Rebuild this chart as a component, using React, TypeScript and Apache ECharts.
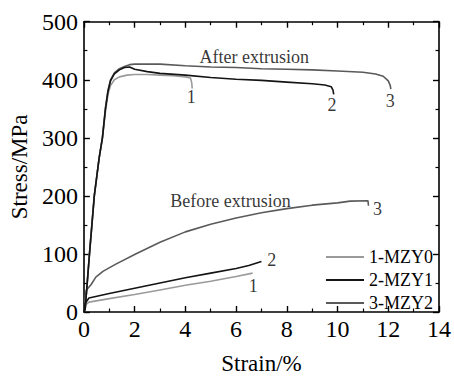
import React, { useEffect, useRef } from "react";
import * as echarts from "echarts";

// Strain (%) / Stress (MPa)
const after1X = [0, 0.05, 0.22, 0.41, 0.6, 0.73, 0.85, 0.95, 1.05, 1.2, 1.4, 1.7, 2.0, 2.5, 3.0, 3.5, 4.0, 4.2, 4.25, 4.27];
const after1Y = [0, 5, 100, 200, 265, 300, 345, 375, 390, 400, 405, 408, 409, 409, 408, 407, 405, 403, 395, 385];
const after2X = [0, 0.05, 0.22, 0.41, 0.6, 0.73, 0.85, 0.95, 1.05, 1.2, 1.4, 1.6, 1.8, 2.0, 2.5, 3, 4, 5, 6, 7, 8, 9, 9.5, 9.75, 9.82, 9.85];
const after2Y = [0, 5, 100, 200, 265, 300, 350, 380, 398, 410, 417, 421, 422, 418, 414, 411, 408, 404, 401, 399, 396, 393, 391, 388, 382, 375];
const after3X = [0, 0.05, 0.22, 0.41, 0.6, 0.73, 0.85, 0.95, 1.05, 1.2, 1.4, 1.6, 1.8, 2.0, 3, 4, 5, 6, 7, 8, 9, 10, 11, 11.5, 11.8, 12.0, 12.08, 12.1];
const after3Y = [0, 5, 100, 200, 265, 300, 352, 382, 400, 412, 419, 423, 426, 427, 427, 424, 422, 421, 419, 418, 417, 415, 413, 410, 406, 398, 390, 384];

const before1X = [0, 0.05, 0.2, 1, 2, 3, 4, 5, 6, 6.65];
const before1Y = [0, 12, 17, 23, 30, 38, 46, 53, 61, 67];
const before2X = [0, 0.05, 0.2, 1, 2, 3, 4, 5, 6, 6.5, 7.0];
const before2Y = [0, 15, 24, 32, 41, 50, 59, 67, 75, 80, 87];
const before3X = [0, 0.05, 0.1, 0.28, 0.47, 0.75, 1.24, 2.04, 3, 4, 5, 6, 7, 8, 9, 10, 10.5, 11.2, 11.22];
const before3Y = [0, 25, 38, 47, 60, 70, 82, 100, 120, 138, 151, 162, 171, 178, 184, 188, 191, 191.5, 183];

const seriesNames = ["1-MZY0", "2-MZY1", "3-MZY2"];
const seriesColors = ["#9a9a9a", "#141414", "#5a5a5a"];

const xTicks = { min: 0, max: 14, interval: 2 };
const yTicks = { min: 0, max: 500, interval: 100 };
const xTitle = "Strain/%";
const yTitle = "Stress/MPa";

// Annotation texts and their positions in data units
const noteTexts = ["After extrusion", "Before extrusion", "1", "2", "3", "1", "2", "3"];
const noteX = [6.72, 5.78, 4.23, 9.78, 12.08, 6.68, 7.41, 11.58];
const noteY = [440, 192, 370, 357, 363, 44, 90, 178];

const zip = (xs: number[], ys: number[]) => xs.map((x, i) => [x, ys[i]]);

export default function App() {
  const ref = useRef<HTMLDivElement>(null);
  useEffect(() => {
    if (!ref.current) return;
    const chart = echarts.init(ref.current, undefined, { renderer: "svg" });
    const font = "Liberation Serif";
    const axisLine = { onZero: false, lineStyle: { color: "#000", width: 1.6 } };
    const mkLine = (name: string, color: string, xs: number[], ys: number[], z: number) => ({
      type: "line",
      name,
      data: zip(xs, ys),
      showSymbol: false,
      symbol: "none",
      lineStyle: { color, width: 1.6 },
      itemStyle: { color },
      z,
    });
    const tick = { inside: true, length: 6, lineStyle: { color: "#000", width: 1.4 } };
    const minor = { show: true, splitNumber: 2, length: 3.5, lineStyle: { color: "#000", width: 1.2 } };
    const serif = (size: number) => ({ fontFamily: font, fontSize: size, color: "#000", fontWeight: "normal" as const });
    const commonX = {
      type: "value",
      min: xTicks.min,
      max: xTicks.max,
      interval: xTicks.interval,
      axisLine,
      axisTick: tick,
      minorTick: minor,
      splitLine: { show: false },
    };
    const commonY = {
      type: "value",
      min: yTicks.min,
      max: yTicks.max,
      interval: yTicks.interval,
      axisLine,
      axisTick: tick,
      minorTick: minor,
      splitLine: { show: false },
    };
    chart.setOption({
      animation: false,
      backgroundColor: "#fff",
      textStyle: { fontFamily: font },
      grid: { left: 77.7, right: 10.7, top: 21.7, bottom: 64.3, containLabel: false },
      xAxis: [
        {
          ...commonX,
          position: "bottom",
          name: xTitle,
          nameLocation: "middle",
          nameGap: 40,
          nameTextStyle: serif(23),
          axisLabel: { ...serif(24), margin: 5 },
        },
        { ...commonX, position: "top", axisLabel: { show: false } },
      ],
      yAxis: [
        {
          ...commonY,
          position: "left",
          name: yTitle,
          nameLocation: "middle",
          nameGap: 48,
          nameTextStyle: serif(23),
          axisLabel: { ...serif(24), margin: 6 },
        },
        { ...commonY, position: "right", axisLabel: { show: false } },
      ],
      legend: {
        data: seriesNames,
        orient: "vertical",
        left: 321,
        top: 243,
        icon: "rect",
        itemWidth: 38,
        itemHeight: 2,
        itemGap: 5,
        textStyle: { ...serif(18), lineHeight: 18 },
      },
      series: [
        mkLine(seriesNames[0], seriesColors[0], after1X, after1Y, 2),
        mkLine(seriesNames[2], seriesColors[2], after3X, after3Y, 3),
        mkLine(seriesNames[1], seriesColors[1], after2X, after2Y, 4),
        mkLine(seriesNames[0], seriesColors[0], before1X, before1Y, 2),
        mkLine(seriesNames[2], seriesColors[2], before3X, before3Y, 3),
        mkLine(seriesNames[1], seriesColors[1], before2X, before2Y, 4),
        {
          type: "scatter",
          name: "notes",
          symbolSize: 0,
          silent: true,
          data: noteTexts.map((t, i) => [noteX[i], noteY[i], t]),
          label: {
            show: true,
            position: "inside",
            formatter: (p: any) => p.value[2],
            ...serif(18),
          },
          z: 10,
        },
      ],
    });
    return () => chart.dispose();
  }, []);
  return <div ref={ref} style={{ position: "absolute", left: 0, top: 0, width: 454, height: 380 }} />;
}
